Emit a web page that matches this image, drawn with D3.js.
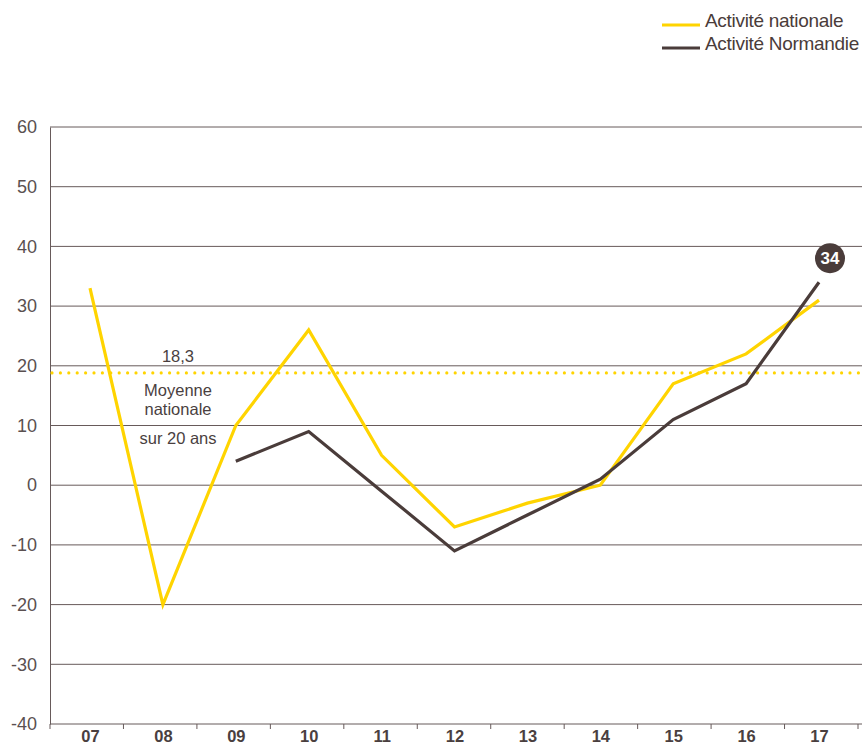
<!DOCTYPE html>
<html>
<head>
<meta charset="utf-8">
<script src="https://cdn.jsdelivr.net/npm/d3@7"></script>
<style>
  body { margin: 0; background: #fff; }
  svg { font-family: "Liberation Sans", Arial, sans-serif; }
</style>
</head>
<body>
<div id="chart"></div>
<script>
// data
const years = ['07', '08', '09', '10', '11', '12', '13', '14', '15', '16', '17'];
const nationale = [33, -20, 10, 26, 5, -7, -3, 0, 17, 22, 31];
const normandie = [null, null, 4, 9, -1, -11, -5, 1, 11, 17, 34];
const yTicks = [60, 50, 40, 30, 20, 10, 0, -10, -20, -30, -40];
const moyenne = 18.3;
const seriesNames = ['Activité nationale', 'Activité Normandie'];

const width = 863, height = 746;
const margin = { left: 50, right: 5, top: 127, bottom: 22 };
const yellow = '#ffd400', dark = '#4a3c3a', textCol = '#4a3f3f';

const svg = d3.select('#chart').append('svg')
  .attr('width', width)
  .attr('height', height);

// band scale for the tick marks, point scale for the lines and labels
const x = d3.scaleBand()
  .domain(years)
  .range([margin.left, 858]);
const xp = d3.scalePoint()
  .domain(years)
  .range([90, 819]);
const y = d3.scaleLinear()
  .domain([-40, 60])
  .range([height - margin.bottom, margin.top]);

// gridlines
svg.append('g')
  .selectAll('line')
  .data(yTicks.filter(d => d !== -40))
  .join('line')
  .attr('x1', margin.left)
  .attr('x2', width - 1)
  .attr('y1', d => y(d))
  .attr('y2', d => y(d))
  .attr('stroke', '#675a5a')
  .attr('stroke-width', 1);

// y axis
const yAxis = svg.append('g')
  .attr('transform', `translate(${margin.left},0)`)
  .call(d3.axisLeft(y).tickValues(yTicks).tickSize(0).tickPadding(13).tickFormat(d => String(d)));
yAxis.select('.domain').attr('stroke', '#675a5a');
yAxis.selectAll('text')
  .attr('font-size', 18)
  .attr('fill', '#5a5050')
  .attr('font-family', '"Liberation Sans", Arial, sans-serif');

// x axis
const xAxis = svg.append('g')
  .attr('transform', `translate(0,${y(-40)})`)
  .call(d3.axisBottom(xp).tickSize(0).tickPadding(6));
xAxis.select('.domain').attr('stroke', '#675a5a').attr('d', `M${margin.left},0H${width - 1}`);
xAxis.selectAll('text')
  .attr('font-size', 16.5)
  .attr('font-weight', 'bold')
  .attr('fill', textCol)
  .attr('font-family', '"Liberation Sans", Arial, sans-serif');
// ticks on band boundaries
svg.append('g')
  .selectAll('line')
  .data(years.concat(['end']))
  .join('line')
  .attr('x1', d => d === 'end' ? x.range()[1] : x(d))
  .attr('x2', d => d === 'end' ? x.range()[1] : x(d))
  .attr('y1', y(-40))
  .attr('y2', y(-40) + 5)
  .attr('stroke', '#675a5a');

// average dotted line
svg.append('line')
  .attr('x1', margin.left + 2)
  .attr('x2', width - 2)
  .attr('y1', y(moyenne) - 3)
  .attr('y2', y(moyenne) - 3)
  .attr('stroke', yellow)
  .attr('stroke-width', 3.2)
  .attr('stroke-linecap', 'round')
  .attr('stroke-dasharray', '0 8.4');

const annot = svg.append('g')
  .attr('font-size', 16.5)
  .attr('fill', textCol)
  .attr('text-anchor', 'middle');
annot.append('text').attr('x', 178).attr('y', y(moyenne) - 14).text('18,3');
annot.append('text').attr('x', 178).attr('y', y(moyenne) + 20).text('Moyenne');
annot.append('text').attr('x', 178).attr('y', y(moyenne) + 39).text('nationale');
annot.append('text').attr('x', 178).attr('y', y(moyenne) + 68).text('sur 20 ans');

// lines
const line = d3.line()
  .defined(d => d[1] !== null)
  .x(d => xp(d[0]))
  .y(d => y(d[1]));

svg.append('path')
  .datum(years.map((yr, i) => [yr, nationale[i]]))
  .attr('fill', 'none')
  .attr('stroke', yellow)
  .attr('stroke-width', 3.2)
  .attr('d', line);

svg.append('path')
  .datum(years.map((yr, i) => [yr, normandie[i]]))
  .attr('fill', 'none')
  .attr('stroke', dark)
  .attr('stroke-width', 3.2)
  .attr('d', line);

// badge for last Normandie value
const lastIdx = years.length - 1;
const badge = svg.append('g')
  .attr('transform', `translate(${xp(years[lastIdx]) + 11},${y(normandie[lastIdx]) - 24})`);
badge.append('circle').attr('r', 15).attr('fill', dark);
badge.append('text')
  .attr('text-anchor', 'middle')
  .attr('dy', '0.36em')
  .attr('font-size', 17)
  .attr('font-weight', 'bold')
  .attr('fill', '#fff')
  .text(normandie[lastIdx]);

// legend
const legend = svg.append('g').attr('transform', 'translate(662,0)');
seriesNames.forEach((name, i) => {
  const row = legend.append('g').attr('transform', `translate(0,${25 + i * 23})`);
  row.append('line')
    .attr('x1', 0).attr('x2', 38)
    .attr('y1', 0).attr('y2', 0)
    .attr('stroke', i === 0 ? yellow : dark)
    .attr('stroke-width', 3.2);
  row.append('text')
    .attr('x', 43)
    .attr('y', 2)
    .attr('font-size', 19)
    .attr('letter-spacing', '-0.3')
    .attr('fill', dark)
    .text(name);
});
</script>
</body>
</html>
